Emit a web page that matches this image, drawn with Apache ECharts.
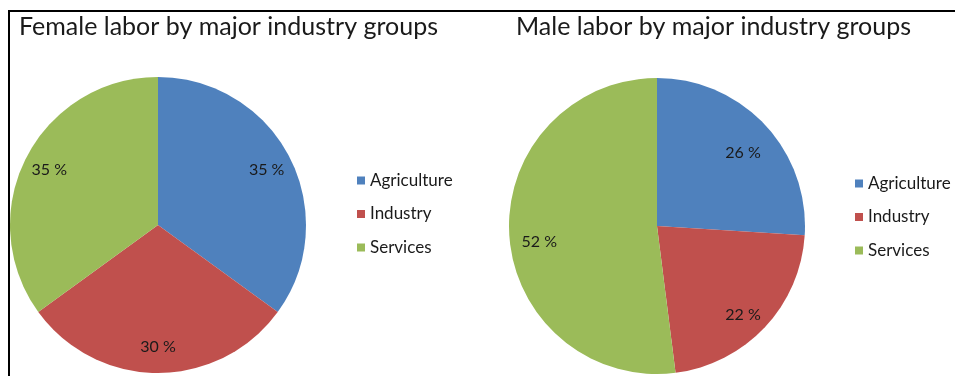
<!DOCTYPE html>
<html>
<head>
	<meta charset="UTF-8">
	<title>Labor by major industry groups</title>
	<script src="https://cdn.jsdelivr.net/npm/echarts@6/dist/echarts.min.js"></script>
	<style type="text/css">
		html, body { margin: 0; padding: 0; background: #fff; }
		#chart { width: 955px; height: 376px; }
	</style>
</head>
<body>
	<div id="chart"></div>
	<script type="text/javascript">
		var industries = ['Agriculture', 'Industry', 'Services'];
		var femaleShare = [35, 30, 35];
		var maleShare = [26, 22, 52];
		var titles = ['Female labor by major industry groups', 'Male labor by major industry groups'];

		var colors = ['#4F81BD', '#C0504D', '#9BBB59'];
		var font = 'Lato';

		function toData(values) {
			var data = [];
			for (var i = 0; i < industries.length; i++) {
				data.push({ name: industries[i], value: values[i] });
			}
			return data;
		}

		// solid pie, no labels
		function pie(values, cx, cy) {
			return {
				type: 'pie',
				center: [cx, cy],
				radius: [0, 148],
				startAngle: 90,
				clockwise: true,
				animation: false,
				silent: true,
				label: { show: false },
				labelLine: { show: false },
				data: toData(values)
			};
		}

		// invisible larger pie only used to place the % labels further out
		function labelRing(values, cx, cy, r) {
			return {
				type: 'pie',
				center: [cx, cy],
				radius: [0, r],
				startAngle: 90,
				clockwise: true,
				animation: false,
				silent: true,
				itemStyle: { color: 'transparent' },
				emphasis: { disabled: true },
				label: {
					show: true,
					position: 'inside',
					formatter: '{c} %',
					fontFamily: font,
					fontSize: 16,
					color: '#1a1a1a'
				},
				labelLine: { show: false },
				data: toData(values)
			};
		}

		var legendStyle = {
			orient: 'vertical',
			icon: 'rect',
			itemWidth: 8,
			itemHeight: 8,
			itemGap: 16.5,
			textStyle: { fontFamily: font, fontSize: 17, color: '#1a1a1a' },
			data: industries
		};

		var titleStyle = { fontFamily: font, fontSize: 25, fontWeight: 'normal', color: '#1a1a1a' };

		var chart = echarts.init(document.getElementById('chart'));
		chart.setOption({
			color: colors,
			animation: false,
			title: [
				{ text: titles[0], left: 14, top: 9, textStyle: titleStyle },
				{ text: titles[1], left: 511, top: 9, textStyle: titleStyle }
			],
			legend: [
				Object.assign({ left: 352, top: 167 }, legendStyle),
				Object.assign({ left: 850, top: 170 }, legendStyle)
			],
			graphic: [
				{ type: 'line', shape: { x1: 8, y1: 11, x2: 955, y2: 11 }, style: { stroke: '#000', lineWidth: 2 } },
				{ type: 'line', shape: { x1: 9, y1: 10, x2: 9, y2: 376 }, style: { stroke: '#000', lineWidth: 2 } }
			],
			series: [
				pie(femaleShare, 158, 225),
				labelRing(femaleShare, 158, 225, 238),
				pie(maleShare, 657, 226),
				labelRing(maleShare, 657, 234, 230)
			]
		});
	</script>
</body>
</html>
